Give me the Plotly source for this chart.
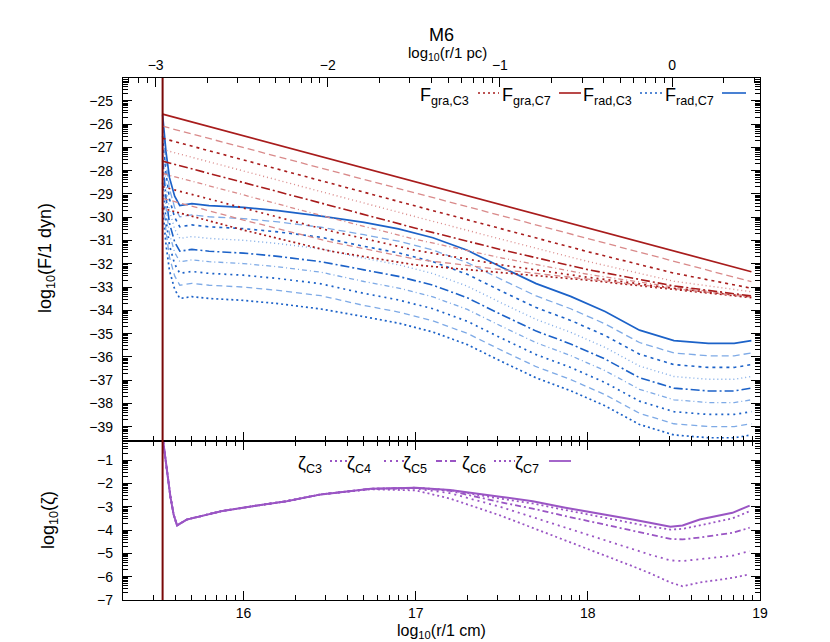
import numpy as np
import plotly.graph_objects as go

# ---------------- data ----------------
R_IN = 15.53            # log10(r_in / cm), vertical line
PC_IN_CM = 18.4894      # log10(1 pc / cm)

X_TICKS = [16, 17, 18, 19]
X_PC_TICKS = [-3, -2, -1, 0]
Y_F_TICKS = list(range(-39, -24))
Y_Z_TICKS = list(range(-7, 0))

# gravitational force, 9 grain classes (C7 ... C3)
X_GRA = [15.53, 16.0, 16.5, 17.0, 17.5, 18.0, 18.5, 18.95]
FGRA_C7 = [-25.57, -26.50, -27.49, -28.48, -29.47, -30.46, -31.45, -32.34]
FGRA_C65 = [-26.09, -27.01, -27.98, -28.96, -29.93, -30.91, -31.88, -32.77]
FGRA_C6 = [-26.61, -27.55, -28.54, -29.52, -30.50, -31.48, -32.40, -33.05]
FGRA_C55 = [-27.09, -28.02, -29.00, -29.98, -30.95, -31.90, -32.75, -33.20]
FGRA_C5 = [-27.59, -28.52, -29.50, -30.47, -31.40, -32.25, -32.95, -33.38]
FGRA_C45 = [-28.12, -29.05, -30.02, -30.95, -31.75, -32.45, -33.00, -33.40]
FGRA_C4 = [-28.69, -29.62, -30.58, -31.42, -32.05, -32.58, -33.05, -33.42]
FGRA_C35 = [-29.19, -30.12, -31.05, -31.80, -32.25, -32.65, -33.07, -33.43]
FGRA_C3 = [-29.62, -30.55, -31.45, -32.05, -32.38, -32.70, -33.10, -33.45]

# radiation force
X_RAD = [15.53, 15.55, 15.57, 15.60, 15.63, 15.70, 15.80, 16.00, 16.20, 16.45, 16.70, 16.90,
         17.10, 17.30, 17.50, 17.70, 17.90, 18.10, 18.30, 18.50, 18.70, 18.85, 18.95]
FRAD_C7 = [-25.60, -27.20, -28.30, -29.10, -29.50, -29.42, -29.50, -29.58, -29.72, -29.95, -30.22, -30.50,
           -30.88, -31.42, -32.15, -32.85, -33.40, -34.05, -34.85, -35.30, -35.42, -35.42, -35.30]
FRAD_C65 = [-26.08, -27.68, -28.78, -29.58, -29.98, -29.90, -29.98, -30.06, -30.20, -30.43, -30.75, -31.03,
            -31.41, -31.95, -32.68, -33.38, -33.93, -34.58, -35.38, -35.83, -35.95, -35.95, -35.83]
FRAD_C6 = [-26.51, -28.11, -29.21, -30.01, -30.41, -30.33, -30.41, -30.49, -30.63, -30.86, -31.25, -31.53,
           -31.91, -32.45, -33.18, -33.88, -34.43, -35.08, -35.88, -36.33, -36.45, -36.45, -36.33]
FRAD_C55 = [-27.01, -28.61, -29.71, -30.51, -30.91, -30.83, -30.91, -30.99, -31.13, -31.36, -31.76, -32.04,
            -32.42, -32.96, -33.69, -34.39, -34.94, -35.59, -36.39, -36.84, -36.96, -36.96, -36.84]
FRAD_C5 = [-27.56, -29.16, -30.26, -31.06, -31.46, -31.38, -31.46, -31.54, -31.68, -31.91, -32.26, -32.54,
           -32.92, -33.46, -34.19, -34.89, -35.44, -36.09, -36.89, -37.34, -37.46, -37.46, -37.34]
FRAD_C45 = [-28.01, -29.61, -30.71, -31.51, -31.91, -31.83, -31.91, -31.99, -32.13, -32.36, -32.76, -33.04,
            -33.42, -33.96, -34.69, -35.39, -35.94, -36.59, -37.39, -37.84, -37.96, -37.96, -37.84]
FRAD_C4 = [-28.51, -30.11, -31.21, -32.01, -32.41, -32.33, -32.41, -32.49, -32.63, -32.86, -33.27, -33.55,
           -33.93, -34.47, -35.20, -35.90, -36.45, -37.10, -37.90, -38.35, -38.47, -38.47, -38.35]
FRAD_C35 = [-29.02, -30.62, -31.72, -32.52, -32.92, -32.84, -32.92, -33.00, -33.14, -33.37, -33.79, -34.07,
            -34.45, -34.99, -35.72, -36.42, -36.97, -37.62, -38.42, -38.87, -38.99, -38.99, -38.87]
FRAD_C3 = [-29.59, -31.19, -32.29, -33.09, -33.49, -33.41, -33.49, -33.57, -33.71, -33.94, -34.27, -34.55,
           -34.93, -35.47, -36.20, -36.90, -37.45, -38.10, -38.90, -39.35, -39.47, -39.47, -39.35]

# zeta
X_ZETA = [15.53, 15.556, 15.575, 15.594, 15.614, 15.67, 15.75, 15.87, 16.06, 16.25, 16.45, 16.74, 17.0,
          17.2, 17.49, 17.68, 17.87, 18.07, 18.26, 18.36, 18.48, 18.55, 18.65, 18.84, 18.94]
ZETA_C7 = [0.0, -1.54, -2.55, -3.33, -3.80, -3.55, -3.40, -3.19, -2.97, -2.76, -2.47, -2.23, -2.18,
           -2.28, -2.57, -2.76, -3.04, -3.29, -3.55, -3.69, -3.86, -3.80, -3.55, -3.26, -2.95]
ZETA_C6 = [0.0, -1.54, -2.55, -3.33, -3.80, -3.55, -3.40, -3.19, -2.97, -2.76, -2.47, -2.23, -2.18,
           -2.29, -2.65, -2.86, -3.14, -3.42, -3.70, -3.85, -3.98, -3.95, -3.80, -3.50, -3.19]
ZETA_C5 = [0.0, -1.54, -2.55, -3.33, -3.80, -3.55, -3.40, -3.19, -2.97, -2.76, -2.47, -2.23, -2.19,
           -2.32, -2.80, -3.08, -3.40, -3.72, -4.02, -4.20, -4.38, -4.40, -4.32, -4.12, -3.90]
ZETA_C4 = [0.0, -1.54, -2.55, -3.33, -3.80, -3.55, -3.40, -3.19, -2.97, -2.76, -2.47, -2.23, -2.22,
           -2.42, -3.00, -3.45, -3.90, -4.35, -4.80, -5.05, -5.30, -5.33, -5.25, -5.10, -4.90]
ZETA_C3 = [0.0, -1.54, -2.55, -3.33, -3.80, -3.55, -3.40, -3.19, -2.97, -2.76, -2.47, -2.25, -2.30,
           -2.65, -3.37, -3.90, -4.45, -5.00, -5.55, -5.85, -6.25, -6.41, -6.25, -6.05, -5.90]

# ---------------- styling ----------------
FONT = "Liberation Sans, Arial, Helvetica, sans-serif"
RED_D, RED_L = "#a81c1c", "#d98a8a"
BLUE_D, BLUE_L = "#1c62c8", "#7eaae6"
PURPLE = "#9a55c4"
VLINE = "#7a0808"

X_RANGE = [15.30, 19.0]
YF_RANGE = [-39.61, -24.02]
YZ_RANGE = [-7.0, -0.18]

# the page body has an 8px margin: the figure is drawn at (8, 8)
OFF = 8
W, H = 822, 634
# wanted plot box in window pixels
BOX_L, BOX_R, BOX_T, BOX_B = 123, 760, 78, 600
L = BOX_L - OFF
R = W + OFF - BOX_R
T = BOX_T - OFF
B = H + OFF - BOX_B
PW, PH = BOX_R - BOX_L, BOX_B - BOX_T
SPLIT = (BOX_B - 441) / PH


def px(xp):
    return (xp - BOX_L) / PW


def py(yp):
    return (BOX_B - yp) / PH


fig = go.Figure()

gra_sets = [
    (FGRA_C7, RED_D, "solid", 1.7),
    (FGRA_C65, RED_L, "7px,4px", 1.3),
    (FGRA_C6, RED_D, "3px,4px", 1.6),
    (FGRA_C55, RED_L, "1px,3px", 1.4),
    (FGRA_C5, RED_D, "9px,3px,2px,3px", 1.6),
    (FGRA_C45, RED_L, "5px,3px,1px,3px", 1.3),
    (FGRA_C4, RED_D, "2px,4px", 1.7),
    (FGRA_C35, RED_L, "6px,4px", 1.3),
    (FGRA_C3, RED_D, "2px,3px", 1.7),
]
rad_sets = [
    (FRAD_C7, BLUE_D, "solid", 1.7),
    (FRAD_C65, BLUE_L, "7px,4px", 1.3),
    (FRAD_C6, BLUE_D, "3px,4px", 1.6),
    (FRAD_C55, BLUE_L, "1px,3px", 1.4),
    (FRAD_C5, BLUE_D, "9px,3px,2px,3px", 1.6),
    (FRAD_C45, BLUE_L, "5px,3px,1px,3px", 1.3),
    (FRAD_C4, BLUE_D, "2px,4px", 1.7),
    (FRAD_C35, BLUE_L, "6px,4px", 1.3),
    (FRAD_C3, BLUE_D, "2px,3px", 1.7),
]
for ys, col, dash, w in reversed(rad_sets):
    fig.add_trace(go.Scatter(x=X_RAD, y=ys, mode="lines", xaxis="x2", yaxis="y2",
                             line=dict(color=col, dash=dash, width=w), hoverinfo="skip"))
for ys, col, dash, w in reversed(gra_sets):
    fig.add_trace(go.Scatter(x=X_GRA, y=ys, mode="lines", xaxis="x2", yaxis="y2",
                             line=dict(color=col, dash=dash, width=w), hoverinfo="skip"))

zeta_sets = [
    (ZETA_C3, "2px,3px", 1.8),
    (ZETA_C4, "2px,4px", 1.8),
    (ZETA_C5, "6px,3px,2px,3px", 1.8),
    (ZETA_C6, "2px,3px", 1.8),
    (ZETA_C7, "solid", 2.0),
]
for ys, dash, w in zeta_sets:
    fig.add_trace(go.Scatter(x=X_ZETA, y=ys, mode="lines", xaxis="x", yaxis="y",
                             line=dict(color=PURPLE, dash=dash, width=w), hoverinfo="skip"))

# invisible trace to carry the parsec axis
fig.add_trace(go.Scatter(x=[v - PC_IN_CM for v in X_RAD], y=FRAD_C7, mode="lines", xaxis="x3", yaxis="y2",
                         line=dict(width=0), opacity=0, hoverinfo="skip"))


def log_minor(lo, hi):
    out = []
    for n in range(int(np.floor(lo)) - 1, int(np.ceil(hi)) + 1):
        for k in range(2, 10):
            v = n + np.log10(k)
            if lo < v < hi:
                out.append(v)
    return out


axis_common = dict(showgrid=False, zeroline=False, showline=True, linecolor="black", linewidth=1.3,
                   ticks="inside", ticklen=9, tickwidth=1, tickcolor="black",
                   tickfont=dict(family=FONT, size=14, color="black"))

fig.update_layout(
    width=W, height=H, paper_bgcolor="white", plot_bgcolor="white",
    margin=dict(l=L, r=R, t=T, b=B), showlegend=False,
    font=dict(family=FONT, size=14, color="black"),
    xaxis=dict(domain=[0, 1], anchor="y", range=X_RANGE, tickmode="array", tickvals=X_TICKS,
               ticktext=[str(v) for v in X_TICKS], mirror="ticks", ticklabelstandoff=0,
               minor=dict(tickmode="array", tickvals=log_minor(*X_RANGE), ticks="inside", ticklen=5,
                          tickcolor="black"),
               **axis_common),
    yaxis=dict(domain=[0, SPLIT], anchor="x", range=YZ_RANGE, tickmode="array", tickvals=Y_Z_TICKS,
               mirror="ticks", ticklabelstandoff=6,
               minor=dict(tickmode="array", tickvals=log_minor(*YZ_RANGE), ticks="inside", ticklen=5,
                          tickcolor="black"),
               **axis_common),
    xaxis2=dict(domain=[0, 1], anchor="y2", range=X_RANGE, tickmode="array", tickvals=X_TICKS,
                showticklabels=False, mirror=False,
                minor=dict(tickmode="array", tickvals=log_minor(*X_RANGE), ticks="inside", ticklen=5,
                           tickcolor="black"),
                **axis_common),
    yaxis2=dict(domain=[SPLIT, 1], anchor="x2", range=YF_RANGE, tickmode="array", tickvals=Y_F_TICKS,
                mirror="ticks", ticklabelstandoff=6,
                minor=dict(tickmode="array", tickvals=log_minor(*YF_RANGE), ticks="inside", ticklen=5,
                           tickcolor="black"),
                **axis_common),
    xaxis3=dict(overlaying="x2", side="top", anchor="y2",
                range=[X_RANGE[0] - PC_IN_CM, X_RANGE[1] - PC_IN_CM],
                tickmode="array", tickvals=X_PC_TICKS, ticklabelstandoff=1,
                minor=dict(tickmode="array", tickvals=log_minor(X_RANGE[0] - PC_IN_CM, X_RANGE[1] - PC_IN_CM),
                           ticks="inside", ticklen=5, tickcolor="black"),
                **axis_common),
)

shapes = [dict(type="line", xref="x", yref="paper", x0=R_IN, x1=R_IN, y0=0, y1=1,
               line=dict(color=VLINE, width=2))]
annotations = []

# titles
annotations.append(dict(text="M6", x=px(441), y=py(35), xref="paper", yref="paper", showarrow=False,
                        xanchor="center", yanchor="middle", font=dict(family=FONT, size=18)))
annotations.append(dict(text="log<sub>10</sub>(r/1 pc)", x=px(447), y=py(53), xref="paper", yref="paper",
                        showarrow=False, xanchor="center", yanchor="middle", font=dict(family=FONT, size=15)))
annotations.append(dict(text="log<sub>10</sub>(r/1 cm)", x=px(441), y=py(631), xref="paper", yref="paper",
                        showarrow=False, xanchor="center", yanchor="middle", font=dict(family=FONT, size=16)))
annotations.append(dict(text="log<sub>10</sub>(F/1 dyn)", x=px(46), y=py(258), xref="paper", yref="paper",
                        showarrow=False, textangle=-90, xanchor="center", yanchor="middle",
                        font=dict(family=FONT, size=18)))
annotations.append(dict(text="log<sub>10</sub>(ζ)", x=px(49), y=py(520), xref="paper", yref="paper",
                        showarrow=False, textangle=-90, xanchor="center", yanchor="middle",
                        font=dict(family=FONT, size=18)))

# top legend (text then sample, gnuplot style)
top_key = [
    ("F<sub>gra,C3</sub>", 471, 478, 499, RED_D, "2px,3px"),
    ("F<sub>gra,C7</sub>", 553, 559, 581, RED_D, "solid"),
    ("F<sub>rad,C3</sub>", 634, 640, 662, BLUE_D, "2px,3px"),
    ("F<sub>rad,C7</sub>", 716, 722, 746, BLUE_D, "solid"),
]
for txt, xr, s0, s1, col, dash in top_key:
    annotations.append(dict(text=txt, x=px(xr), y=py(97), xref="paper", yref="paper", showarrow=False,
                            xanchor="right", yanchor="middle", font=dict(family=FONT, size=18)))
    shapes.append(dict(type="line", xref="paper", yref="paper", x0=px(s0), x1=px(s1), y0=py(93), y1=py(93),
                       line=dict(color=col, dash=dash, width=1.6)))

bot_key = [
    ("ζ<sub>C3</sub>", 324, 330, 351, "2px,3px"),
    ("ζ<sub>C4</sub>", 373, 384, 405, "2px,4px"),
    ("ζ<sub>C5</sub>", 429, 436, 458, "6px,3px,2px,3px"),
    ("ζ<sub>C6</sub>", 488, 494, 515, "2px,3px"),
    ("ζ<sub>C7</sub>", 541, 549, 571, "solid"),
]
for txt, xr, s0, s1, dash in bot_key:
    annotations.append(dict(text=txt, x=px(xr), y=py(464), xref="paper", yref="paper", showarrow=False,
                            xanchor="right", yanchor="middle", font=dict(family=FONT, size=18)))
    shapes.append(dict(type="line", xref="paper", yref="paper", x0=px(s0), x1=px(s1), y0=py(461), y1=py(461),
                       line=dict(color=PURPLE, dash=dash, width=1.8)))

fig.update_layout(shapes=shapes, annotations=annotations)
fig.write_html("out.html")
